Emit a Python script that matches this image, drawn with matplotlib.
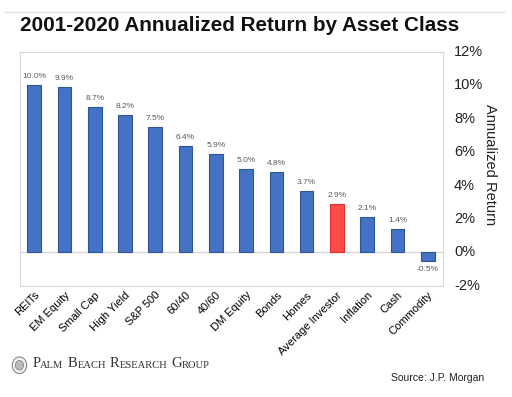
import matplotlib.pyplot as plt
from matplotlib.patches import Ellipse
from matplotlib.lines import Line2D
from matplotlib.text import Annotation

categories = ["REITs", "EM Equity", "Small Cap", "High Yield", "S&P 500", "60/40", "40/60",
              "DM Equity", "Bonds", "Homes", "Average Investor", "Inflation", "Cash", "Commodity"]
returns = [10.0, 9.9, 8.7, 8.2, 7.5, 6.4, 5.9, 5.0, 4.8, 3.7, 2.9, 2.1, 1.4, -0.5]
highlight = "Average Investor"
y_ticks = [-2, 0, 2, 4, 6, 8, 10, 12]

BLUE = "#4472C4"
BLUE_EDGE = "#2F5597"
RED = "#FF4B4B"
RED_EDGE = "#E03030"

plt.rcParams["font.family"] = ["Liberation Sans", "DejaVu Sans"]

fig = plt.figure(figsize=(5.12, 3.97), dpi=100)
ax = fig.add_axes([0.039, 0.280, 0.826, 0.589])

x = range(len(categories))
colors = [RED if c == highlight else BLUE for c in categories]
edges = [RED_EDGE if c == highlight else BLUE_EDGE for c in categories]
ax.bar(x, returns, width=0.45, color=colors, edgecolor=edges, linewidth=0.8, zorder=3)
ax.axhline(0, color="#d9d9d9", linewidth=1.0, zorder=2)

for i, v in enumerate(returns):
    off = 0.3 if v >= 0 else -0.3
    ax.text(i, v + off, f"{v:.1f}%", ha="center", va="bottom" if v >= 0 else "top",
            fontsize=6, color="#595959")

ax.set_xlim(-0.47, 13.5)
ax.set_ylim(-2, 12)
ax.set_xticks(list(x))
ax.set_xticklabels(categories, rotation=45, ha="right", rotation_mode="anchor", fontsize=8)
ax.tick_params(axis="x", length=0, pad=3)
ax.set_yticks([])

for s in ax.spines.values():
    s.set_color("#d9d9d9")
    s.set_linewidth(0.8)

# right-hand percentage labels sit outside the box
for t in y_ticks:
    ax.annotate(f"{t}%", xy=(1, t), xycoords=("axes fraction", "data"), xytext=(8, 0),
                textcoords="offset points", ha="left", va="center", fontsize=10.5,
                color="#222222", annotation_clip=False)

fig.text(0.958, 0.585, "Annualized Return", rotation=270, ha="center", va="center",
         fontsize=10.5, color="#222222")

fig.text(0.039, 0.937, "2001-2020 Annualized Return by Asset Class", ha="left", va="center",
         fontsize=14.9, fontweight="bold", color="#111111")
fig.add_artist(Line2D([0.01, 0.985], [0.970, 0.970], color="#e3e3e3", linewidth=1.0))

fig.text(0.945, 0.048, "Source: J.P. Morgan", ha="right", va="center", fontsize=7.5,
         color="#222222")

# logo and small-caps brand name
fig.add_artist(Ellipse((0.038, 0.080), 0.028, 0.042, facecolor="#f2f2f2",
                       edgecolor="#888888", linewidth=0.8))
fig.add_artist(Ellipse((0.038, 0.080), 0.016, 0.024, facecolor="#bbbbbb",
                       edgecolor="#777777", linewidth=0.5))

pieces = [("ALM", 7.6, 0), ("B", 10.5, 2.8), ("EACH", 7.6, 0), ("R", 10.5, 2.8),
          ("ESEARCH", 7.6, 0), ("G", 10.5, 2.8), ("ROUP", 7.6, 0)]
prev = fig.text(0.063, 0.068, "P", fontsize=10.5, family="Liberation Serif",
                color="#333333", ha="left", va="bottom")
for txt, size, gap in pieces:
    prev = fig.add_artist(Annotation(txt, xy=(1, 0), xycoords=prev, xytext=(gap, 0),
                                     textcoords="offset points", fontsize=size,
                                     family="Liberation Serif", color="#333333",
                                     ha="left", va="bottom"))

fig.savefig("out.png", dpi=100)
